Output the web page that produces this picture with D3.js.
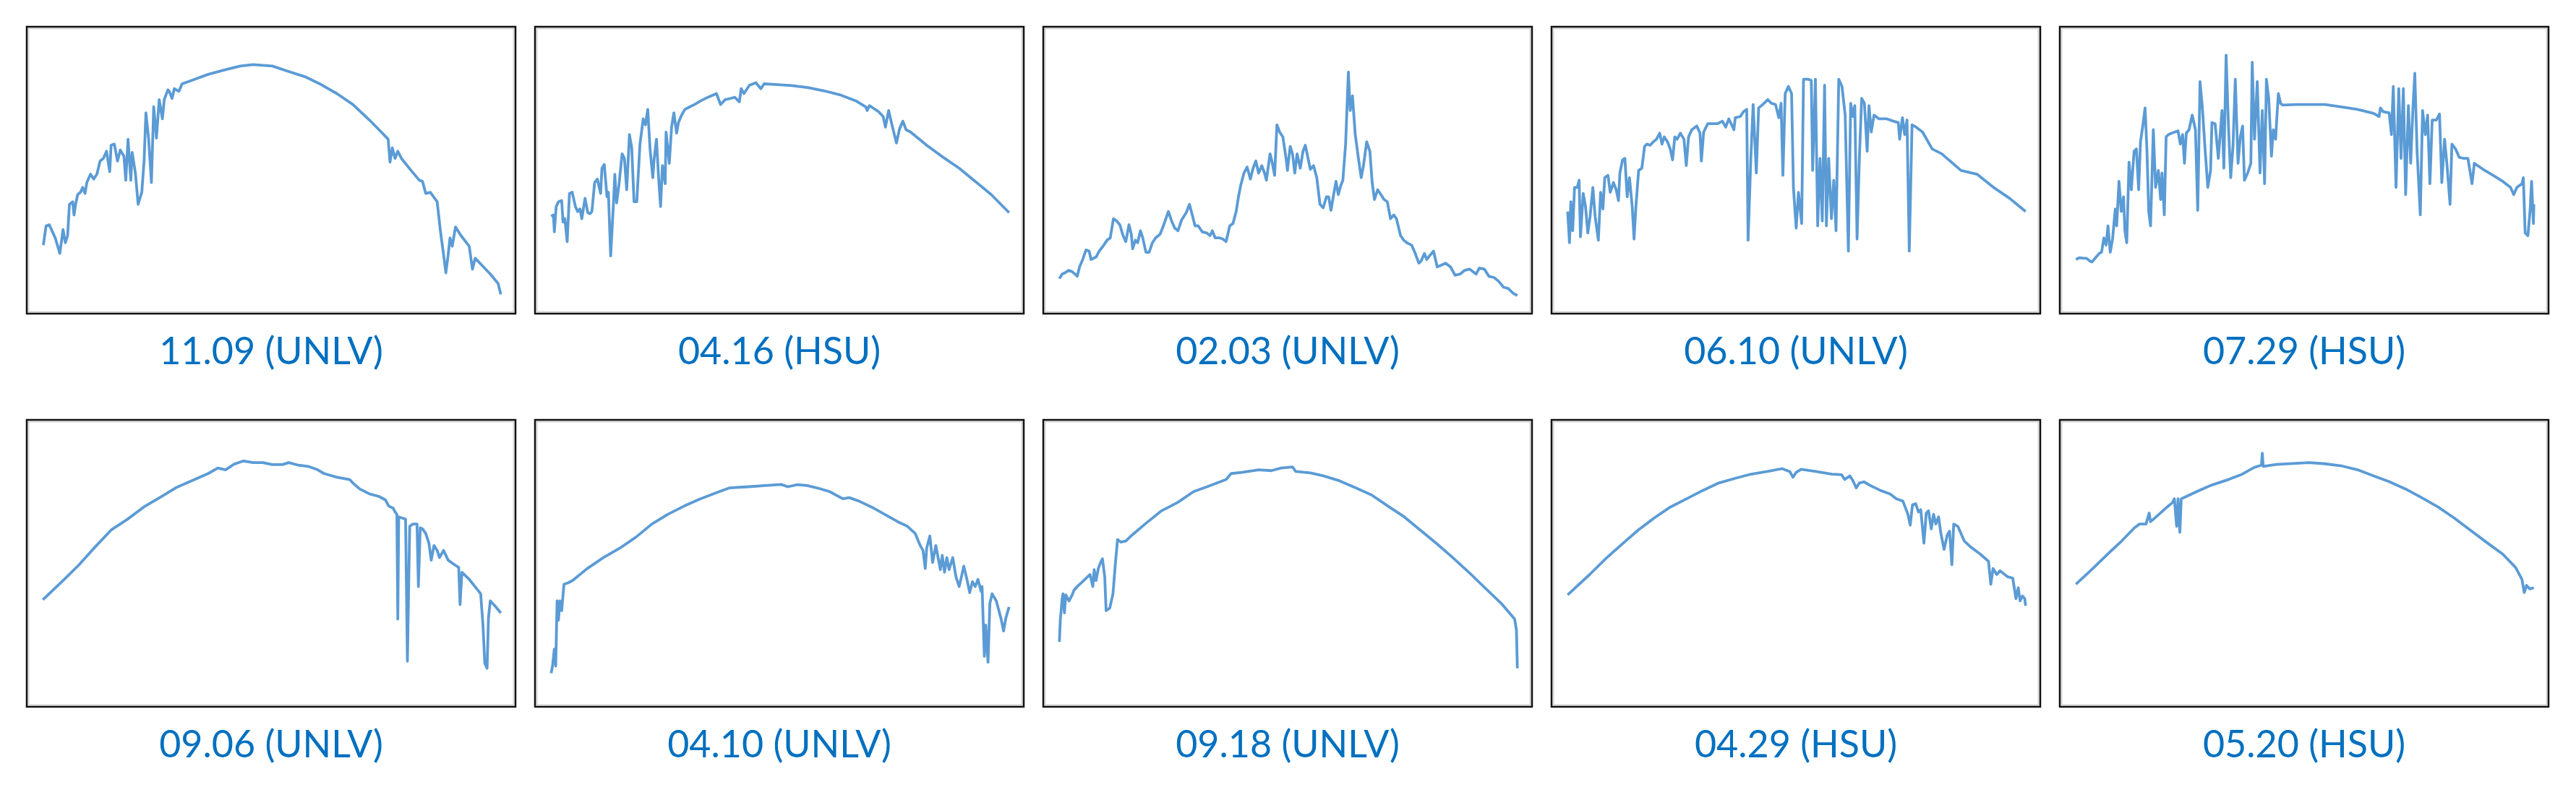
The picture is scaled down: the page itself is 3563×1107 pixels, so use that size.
<!DOCTYPE html>
<html>
<head>
<meta charset="utf-8">
<script src="https://cdn.jsdelivr.net/npm/d3@7"></script>
<style>
  body { margin: 0; background: #fff; }
  svg { display: block; }
</style>
</head>
<body>
<svg width="3563" height="1107"></svg>
<script>
// relative irradiance (0-1000) against share of the recorded day (0-100)
var d1109 = [[0.1,239],[0.7,306],[1.4,310],[2.1,285],[2.7,264],[3.7,210],[4.4,293],[4.9,247],[5.4,272],[5.8,381],[6.5,390],[6.8,344],[7.2,386],[7.6,415],[8.2,423],[8.7,440],[9.2,419],[9.6,457],[10.4,486],[11.1,469],[11.8,486],[12.5,532],[13.2,541],[13.9,566],[14.6,495],[14.9,587],[15.6,591],[16.3,532],[16.9,570],[17.7,549],[18.1,465],[18.6,608],[19.2,465],[19.5,562],[20.2,490],[20.8,381],[21.6,423],[22.1,532],[22.5,700],[23.1,608],[23.7,457],[24.2,721],[24.8,612],[25.4,746],[26.1,679],[26.5,746],[27.3,780],[27.6,775],[28.2,750],[28.7,784],[29.7,775],[30.4,801],[32.5,813],[36.1,834],[39.6,849],[43.1,863],[45.9,868],[50.1,863],[53.7,844],[57.2,826],[60.7,799],[64.2,767],[67.7,729],[71.3,675],[73.4,641],[75.4,608],[75.8,528],[76.3,578],[76.9,541],[77.5,566],[78.3,541],[80.4,499],[82.2,465],[82.9,461],[83.6,419],[84.6,423],[86.1,390],[86.8,289],[87.5,205],[88.0,142],[88.5,205],[88.9,264],[89.4,235],[90.1,302],[91.3,272],[93.1,235],[93.8,155],[94.4,193],[95.9,168],[97.7,138],[99.4,105],[100,67]];

var d0416 = [[0,339],[0.5,344],[0.7,285],[1.1,373],[1.6,390],[2.3,394],[2.6,319],[3.0,331],[3.5,251],[4.0,419],[4.6,423],[5.3,373],[5.8,356],[6.3,365],[6.7,331],[7.4,402],[8.0,352],[8.5,348],[8.9,356],[9.5,457],[10.1,469],[10.8,419],[11.1,507],[11.6,520],[12.2,407],[12.5,423],[13.0,201],[13.6,381],[13.9,486],[14.3,386],[14.8,448],[15.5,557],[16.0,541],[16.5,432],[17.1,624],[17.6,578],[18.1,390],[18.7,390],[19.4,591],[20.1,679],[20.6,658],[21.1,712],[21.6,574],[22.2,474],[22.5,541],[23.0,608],[23.5,465],[23.9,373],[24.3,516],[24.9,453],[25.1,633],[25.8,524],[26.3,650],[26.8,700],[27.4,629],[27.8,666],[28.5,692],[29.2,712],[30.3,721],[31.3,729],[32.7,742],[34.2,754],[36.1,767],[37.0,729],[38.0,746],[39.1,750],[40.1,754],[41.1,738],[41.5,784],[42.1,767],[43.3,796],[44.7,805],[45.8,784],[46.5,801],[48.9,799],[52.5,795],[56.0,788],[59.5,777],[63.0,763],[66.5,742],[68.7,721],[69.0,708],[69.5,725],[71.5,704],[72.5,687],[73.0,650],[73.7,708],[74.3,666],[75.4,595],[76.1,645],[76.8,671],[77.5,641],[78.5,633],[82.0,587],[85.6,545],[89.1,507],[92.6,461],[96.1,415],[100,352]];

var d0203 = [[0,122],[0.6,138],[1.3,143],[2.0,151],[2.7,147],[3.4,138],[3.9,130],[4.4,163],[5.1,189],[5.8,222],[6.5,218],[6.9,189],[8.0,197],[8.7,218],[9.7,239],[10.4,256],[11.1,264],[11.8,331],[12.5,323],[13.2,310],[13.9,272],[14.5,251],[15.2,310],[15.7,277],[16.0,226],[16.6,256],[17.1,247],[17.7,289],[18.2,264],[18.9,214],[19.6,214],[20.3,247],[21.0,264],[22.0,277],[22.7,306],[23.8,356],[24.5,323],[25.2,298],[25.9,289],[26.7,327],[27.7,352],[28.4,381],[29.1,339],[29.6,306],[30.3,306],[31.2,285],[32.2,281],[32.9,272],[33.4,289],[34.0,264],[35.0,264],[35.7,260],[36.4,251],[37.2,306],[37.9,314],[38.6,356],[39.1,407],[39.6,448],[40.3,490],[41.0,511],[41.7,469],[42.3,507],[42.9,532],[43.5,490],[44.2,516],[44.8,490],[45.2,465],[46.0,557],[46.4,532],[47.0,482],[47.5,658],[48.1,633],[48.8,616],[49.5,541],[49.8,499],[50.4,583],[50.9,557],[51.4,490],[51.9,557],[52.6,507],[53.2,566],[53.7,587],[54.3,541],[54.8,503],[55.5,516],[56.2,474],[56.9,381],[57.6,369],[58.3,407],[58.8,407],[59.3,360],[59.8,407],[60.4,461],[60.9,415],[61.4,444],[61.9,465],[62.5,591],[63.1,842],[63.5,708],[64.0,759],[64.6,624],[65.3,541],[65.9,474],[66.4,516],[67.1,599],[67.8,566],[68.3,457],[68.8,398],[69.5,432],[70.2,415],[70.9,398],[71.6,390],[72.3,331],[73.0,344],[73.6,331],[74.5,272],[75.2,256],[75.9,247],[76.9,239],[77.6,214],[78.5,176],[79.0,184],[79.7,210],[80.2,189],[80.8,201],[81.7,218],[82.5,163],[83.3,168],[84.3,176],[85.4,163],[86.4,134],[87.5,138],[88.5,151],[89.6,155],[91.0,138],[91.7,159],[92.8,155],[93.8,130],[94.9,126],[95.9,113],[97.0,92],[98.0,88],[99.1,71],[100,63]];

var d0610 = [[0,356],[0.4,247],[0.7,390],[1.1,289],[1.5,440],[2.1,440],[2.5,465],[2.8,268],[3.4,419],[3.9,373],[4.4,281],[4.9,339],[5.5,440],[6.0,339],[6.7,256],[7.2,423],[7.7,365],[8.1,474],[8.8,482],[9.3,423],[10.0,457],[10.6,432],[11.1,394],[11.4,490],[12.0,536],[12.5,541],[13.0,407],[13.5,474],[14.1,373],[14.5,260],[14.9,373],[15.5,499],[16.2,507],[16.8,583],[17.3,591],[18.0,587],[18.7,599],[19.4,608],[20.1,629],[20.6,591],[21.1,616],[21.8,599],[22.4,574],[22.9,536],[23.4,616],[23.9,608],[24.6,629],[25.4,608],[25.9,516],[26.4,616],[27.1,641],[28.2,654],[28.9,629],[29.2,532],[29.7,633],[30.6,662],[31.7,662],[32.7,662],[33.8,671],[34.5,650],[35.2,679],[36.3,641],[36.6,683],[37.7,687],[38.4,704],[39.1,712],[39.4,256],[40.0,541],[40.5,729],[41.2,490],[41.7,717],[42.6,729],[43.7,746],[44.5,733],[45.4,729],[46.1,683],[46.6,733],[47.0,482],[47.5,767],[48.2,792],[48.9,767],[49.3,440],[49.9,298],[50.4,423],[51.1,314],[51.5,817],[52.5,817],[53.2,813],[53.5,499],[54.1,817],[54.6,306],[55.1,541],[55.6,323],[56.1,796],[56.5,306],[57.0,541],[57.6,331],[58.1,465],[58.6,289],[59.2,817],[59.9,792],[60.6,692],[61.3,218],[61.8,733],[62.3,687],[62.7,725],[63.2,260],[63.7,541],[64.2,750],[64.8,733],[65.4,566],[65.8,725],[66.3,633],[66.9,692],[68.0,679],[69.7,679],[71.1,671],[72.2,666],[72.5,608],[73.1,683],[73.6,624],[74.1,675],[74.6,218],[75.2,658],[76.1,650],[77.5,633],[79.6,574],[81.7,557],[83.8,528],[85.9,499],[89.4,486],[93.0,440],[96.5,402],[100,356]];

var d0729 = [[0,189],[0.8,195],[1.6,193],[2.3,193],[3.0,184],[3.5,180],[4.4,197],[5.1,210],[5.6,214],[6.1,264],[6.6,239],[7.0,306],[7.5,214],[8.0,260],[8.6,365],[8.9,306],[9.4,461],[9.9,356],[10.4,407],[10.7,289],[11.1,247],[11.6,528],[12.1,432],[12.7,566],[13.2,574],[13.7,432],[14.1,599],[14.6,654],[15.1,717],[15.5,574],[15.9,356],[16.3,306],[16.9,641],[17.4,440],[18.0,499],[18.5,398],[18.8,490],[19.3,344],[19.7,616],[20.2,624],[20.9,629],[21.6,633],[22.3,637],[22.8,591],[23.3,624],[23.7,524],[24.1,629],[24.7,641],[25.4,692],[26.1,641],[26.6,360],[27.1,809],[27.6,721],[28.2,574],[28.8,440],[29.4,499],[29.7,666],[30.4,662],[31.1,541],[31.9,708],[32.3,507],[32.8,901],[33.3,658],[33.8,474],[34.3,583],[34.8,817],[35.4,524],[35.9,616],[36.4,654],[36.8,465],[37.5,490],[38.2,524],[38.5,876],[39.0,608],[39.6,809],[40.2,490],[40.7,708],[41.2,453],[41.6,817],[42.1,750],[42.7,549],[43.1,641],[43.6,608],[44.2,767],[44.7,733],[45.1,727],[48.1,729],[50.9,729],[54.4,729],[57.9,721],[61.5,712],[65.0,698],[66.2,687],[66.5,717],[67.1,704],[68.4,700],[68.9,624],[69.3,792],[69.9,440],[70.5,784],[71.0,541],[71.5,784],[72.0,415],[72.6,725],[73.1,524],[73.6,717],[74.0,838],[74.5,566],[75.2,344],[75.7,708],[76.3,624],[76.8,692],[77.3,453],[77.8,675],[78.7,675],[79.4,696],[79.9,457],[80.5,608],[81.0,524],[81.7,381],[82.1,591],[82.9,574],[83.7,545],[84.7,541],[85.6,541],[86.5,453],[87.0,524],[88.9,503],[91.1,482],[93.2,461],[94.9,440],[95.6,415],[96.3,440],[97.4,453],[97.7,474],[98.1,281],[98.7,272],[99.2,365],[99.5,461],[99.9,314],[100,381]];

var d0906 = [[0,373],[4.4,440],[7.9,495],[11.4,557],[14.9,616],[18.5,654],[22.0,696],[25.5,729],[29.0,763],[32.5,788],[36.1,813],[38.2,832],[39.9,826],[41.7,845],[43.8,857],[45.9,851],[48.0,851],[50.1,844],[52.3,844],[53.7,851],[55.8,842],[57.9,838],[60.0,826],[61.4,813],[64.2,800],[67.0,792],[67.7,780],[69.2,759],[71.3,742],[73.4,733],[74.8,721],[75.5,700],[76.5,692],[76.9,679],[77.3,671],[77.5,306],[77.7,662],[79.2,654],[79.6,159],[80.1,629],[80.8,637],[81.7,637],[82.0,419],[82.4,624],[82.9,620],[83.6,604],[84.3,570],[84.8,511],[85.4,562],[86.1,545],[86.6,520],[87.5,545],[88.5,511],[89.9,495],[90.8,486],[91.1,356],[91.5,469],[93.1,444],[95.2,402],[95.6,394],[96.1,285],[96.5,151],[97.0,134],[97.3,310],[97.7,369],[98.7,352],[100,327]];

var d0410 = [[0,117],[0.3,142],[0.7,201],[1.0,142],[1.3,369],[1.6,302],[1.9,369],[2.3,335],[2.8,427],[3.7,432],[4.7,440],[7.9,482],[11.4,520],[15.0,553],[18.5,591],[22.0,637],[25.5,671],[29.1,700],[32.6,725],[36.1,746],[39.0,763],[43.2,767],[46.7,771],[50.2,775],[51.7,767],[53.8,774],[55.9,771],[58.7,760],[60.8,750],[63.7,725],[65.1,729],[67.2,717],[70.0,696],[72.8,671],[75.7,645],[77.8,629],[79.5,604],[80.6,562],[81.2,545],[81.7,482],[82.0,553],[82.7,595],[83.3,503],[84.0,562],[84.5,520],[85.0,478],[85.4,528],[85.9,469],[86.4,520],[86.9,478],[87.7,520],[88.4,453],[89.1,419],[89.6,453],[90.1,490],[90.8,444],[91.4,398],[92.0,436],[92.6,419],[93.2,444],[93.9,402],[94.1,419],[94.6,176],[94.9,285],[95.4,155],[95.8,360],[96.3,394],[97.2,369],[98.2,310],[98.8,264],[99.3,310],[100,348]];

var d0918 = [[0,226],[0.2,302],[0.6,377],[0.8,394],[1.1,327],[1.4,390],[2.1,369],[2.8,390],[3.2,407],[3.9,419],[5.3,440],[6.7,461],[7.3,419],[7.6,478],[8.0,440],[8.5,482],[9.0,503],[9.4,516],[9.9,453],[10.2,335],[11.0,344],[11.7,394],[12.2,495],[12.7,583],[13.4,574],[14.5,578],[15.9,599],[18.7,637],[22.3,683],[25.8,712],[29.3,750],[32.9,771],[36.4,792],[37.5,813],[39.9,817],[43.5,826],[46.3,823],[48.4,832],[50.9,836],[51.6,820],[54.8,815],[57.6,805],[61.1,788],[64.7,763],[68.2,738],[71.7,700],[75.3,662],[78.8,616],[82.3,570],[85.9,520],[89.4,469],[92.9,415],[96.5,360],[99.4,306],[99.8,268],[100,134]];

var d0429 = [[0,390],[4.8,461],[8.3,516],[11.8,566],[15.4,616],[18.9,658],[22.4,696],[26.0,725],[29.5,754],[33.0,780],[36.5,796],[40.1,811],[43.6,820],[46.8,830],[48.5,820],[49.2,800],[49.9,817],[51.0,828],[54.2,820],[57.7,811],[59.8,809],[60.5,792],[61.6,805],[62.3,788],[63.0,763],[63.7,780],[64.7,784],[66.1,771],[68.3,754],[70.4,742],[71.8,725],[73.2,717],[74.3,671],[74.8,633],[75.3,704],[76.0,708],[76.6,679],[77.1,687],[77.8,570],[78.3,675],[78.8,683],[79.4,620],[79.9,671],[80.4,637],[81.0,662],[81.5,604],[82.2,549],[82.9,599],[83.4,612],[83.9,495],[84.3,637],[85.2,629],[86.6,578],[88.0,557],[90.1,532],[91.9,507],[92.4,427],[92.9,482],[93.7,461],[94.4,474],[96.1,453],[97.2,448],[97.9,377],[98.4,415],[98.8,369],[99.3,386],[99.8,377],[100,352]];

var d0520 = [[0,427],[3.7,482],[7.2,536],[10.0,578],[12.8,624],[13.9,637],[15.3,637],[16.0,675],[16.3,645],[17.8,666],[19.9,696],[21.1,712],[21.5,725],[22.0,629],[22.3,725],[22.7,608],[23.0,725],[24.1,733],[26.9,754],[29.7,773],[33.3,792],[36.1,809],[38.9,834],[40.5,842],[40.7,884],[40.9,838],[43.8,845],[47.4,848],[50.9,851],[54.4,847],[57.9,840],[61.5,826],[65.0,805],[68.5,784],[72.0,759],[75.5,729],[79.1,696],[82.6,658],[86.1,616],[89.6,574],[93.2,532],[96.0,486],[97.4,444],[97.9,398],[98.4,423],[99.1,411],[100,415]];

var labels = ["11.09 (UNLV)", "04.16 (HSU)", "02.03 (UNLV)", "06.10 (UNLV)", "07.29 (HSU)",
              "09.06 (UNLV)", "04.10 (UNLV)", "09.18 (UNLV)", "04.29 (HSU)", "05.20 (HSU)"];
var series = [d1109, d0416, d0203, d0610, d0729, d0906, d0410, d0918, d0429, d0520];

var svg = d3.select("svg"),
    padLeft = 37, padTop = 37,
    boxW = 676, boxH = 397,
    stepX = 703, stepY = 544,
    cols = 5;

var x = d3.scaleLinear()
    .domain([0, 100])
    .range([boxW * 0.033, boxW * 0.97]);

var y = d3.scaleLinear()
    .domain([0, 1000])
    .range([boxH, 0]);

var line = d3.line()
    .x(function(d) { return x(d[0]); })
    .y(function(d) { return y(d[1]); });

var panel = svg.selectAll("g.panel")
  .data(series)
  .enter().append("g")
    .attr("class", "panel")
    .attr("transform", function(d, i) {
      return "translate(" + (padLeft + (i % cols) * stepX) + "," + (padTop + Math.floor(i / cols) * stepY) + ")";
    });

// frame with a faint inner edge
panel.append("rect")
    .attr("x", 2.5).attr("y", 2.5)
    .attr("width", boxW - 5).attr("height", boxH - 5)
    .attr("fill", "#fff")
    .attr("stroke", "#d6d6d6")
    .attr("stroke-width", 2);

panel.append("rect")
    .attr("width", boxW).attr("height", boxH)
    .attr("fill", "none")
    .attr("stroke", "#111")
    .attr("stroke-width", 2.5);

panel.append("path")
    .attr("d", line)
    .attr("fill", "none")
    .attr("stroke", "#5b9bd5")
    .attr("stroke-width", 3.8)
    .attr("stroke-linejoin", "round");

panel.append("text")
    .attr("x", boxW / 2)
    .attr("y", boxH + 70)
    .attr("text-anchor", "middle")
    .attr("font-family", "Lato, 'Open Sans', sans-serif")
    .attr("font-size", 52)
    .attr("fill", "#0070c0")
    .text(function(d, i) { return labels[i]; });
</script>
</body>
</html>
